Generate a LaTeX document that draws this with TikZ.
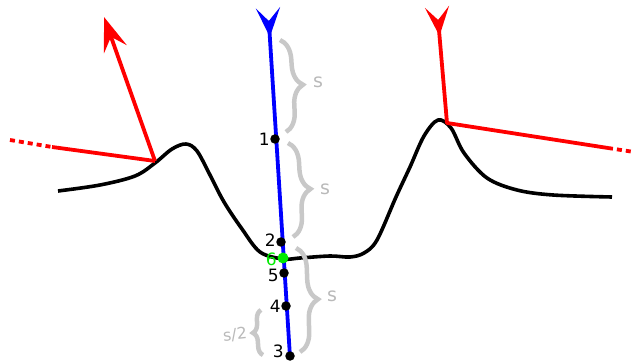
\documentclass[tikz,border=0pt]{standalone}
\usepackage{fontspec}
\setmainfont{DejaVu Sans}
\usetikzlibrary{arrows.meta,decorations.pathreplacing,calc}
\definecolor{braceg}{RGB}{200,200,200}
\definecolor{labg}{RGB}{185,185,185}
\definecolor{ptgreen}{RGB}{0,235,0}
\begin{document}
\begin{tikzpicture}[x=1pt,y=-1pt,
  ray/.style={line width=3.8pt},
  redray/.style={ray, red},
  blueray/.style={ray, blue},
  surf/.style={line width=3.6pt, black, line join=round},
  dotline/.style={redray, dash pattern=on 5pt off 4pt},
  pt/.style={circle, fill=black, inner sep=0pt, minimum size=9.5pt},
  gpt/.style={circle, fill=ptgreen, inner sep=0pt, minimum size=11pt},
  num/.style={font=\fontsize{17}{17}\selectfont, inner sep=0pt},
  sbrace/.style={decorate, decoration={brace, amplitude=#1}, braceg, line width=4.5pt},
  slab/.style={font=\fontsize{19}{19}\selectfont, labg, inner sep=0pt},
  tipst/.style={-{Stealth[length=29pt,width=24pt,inset=13pt]}}
]
\useasboundingbox (0,0) rectangle (634,363);

% surface
\draw[surf] plot[smooth, tension=0.55] coordinates {
 (58,191) (100,185) (135,176) (155,163) (172,149) (186,144) (197,151) (210,175) (224,202) (242,229) (260,252) (283,259) (300,258) (330,256) (350,257) (364,253) (377,240) (396,197) (410,167) (424,136) (438,120) (451,128) (464,153) (487,178) (517,190) (553,195) (612,197)};

% blue ray
\coordinate (bT) at (268,8);
\coordinate (bB) at (290,357);
\coordinate (bA) at ($(bT)!13pt!(bB)$);
\coordinate (bH) at ($(bT)!29pt!(bB)$);
\draw[blueray] (bA) -- (bB);
\draw[blueray, tipst] (bA) -- (bH);

% left red
\coordinate (L) at (155,161);
\coordinate (LT) at (104,17);
\coordinate (LS) at (52,147);
\coordinate (LD) at (10,140);
\draw[redray, line join=round] (LS) -- (L);
\draw[dotline] (LD) -- (LS);
\draw[redray, -{Stealth[length=34pt,width=24pt,inset=13pt]}] (L) -- (LT);

% right red
\coordinate (RT) at (437,7);
\coordinate (R) at (447,123);
\coordinate (RS) at (608,148);
\coordinate (RD) at (634,152);
\coordinate (RA) at ($(RT)!13pt!(R)$);
\coordinate (RH) at ($(RT)!29pt!(R)$);
\draw[redray, line join=round] (RA) -- (R) -- (RS);
\draw[redray, tipst] (RA) -- (RH);
\draw[dotline] (RS) -- (RD);

% braces
\draw[sbrace=20pt] (280,40) -- (286,132);
\node[slab] (s1) at (318,82) {s};
\draw[sbrace=20pt] (288,143) -- (293,237);
\node[slab] (s2) at (325,189) {s};
\draw[sbrace=20pt] (296,248) -- (300,352);
\node[slab] (s3) at (332,296) {s};
\draw[sbrace=9pt] (263,355) -- (261,310);
\node[slab, font=\fontsize{16}{16}\selectfont, rotate=6] (s4) at (235,335) {s/2};

% points
\node[pt] (p1) at (275,139) {};
\node[pt] (p2) at (281,242) {};
\node[pt] (p5) at (284,273) {};
\node[pt] (p4) at (286,306) {};
\node[pt] (p3) at (290,356) {};
\node[gpt] (p6) at (283,258) {};

\node[num, anchor=east] at ($(p1)+(-5,0)$) {1};
\node[num, anchor=east] at ($(p2)+(-5,-2)$) {2};
\node[num, anchor=east, ptgreen] at ($(p6)+(-6,1)$) {6};
\node[num, anchor=east] at ($(p5)+(-5,2)$) {5};
\node[num, anchor=east] at ($(p4)+(-5,0)$) {4};
\node[num, anchor=east] at ($(p3)+(-6,-5)$) {3};
\end{tikzpicture}
\end{document}
